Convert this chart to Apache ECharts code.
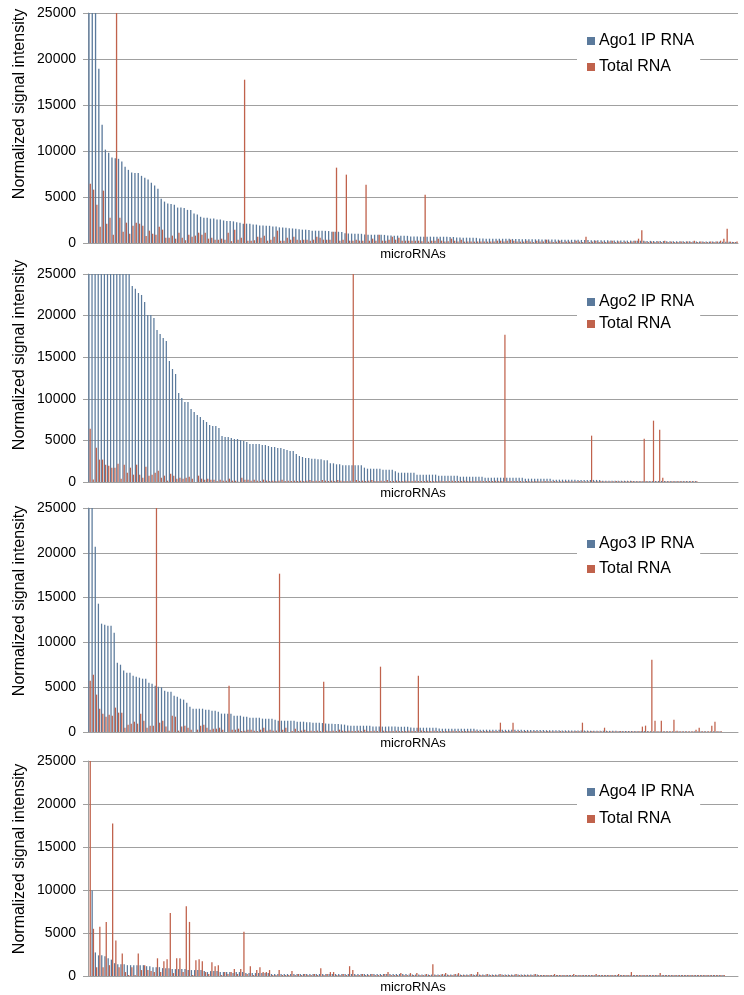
<!DOCTYPE html>
<html>
<head>
<meta charset="utf-8">
<script src="https://cdn.jsdelivr.net/npm/echarts@6/dist/echarts.min.js"></script>
<style>
  html, body { margin: 0; padding: 0; background: #fff; }
  #chart { width: 744px; height: 995px; }
</style>
</head>
<body>
<div id="chart"></div>
<script>
// 各面板的数据（从图上估读，单位：归一化信号强度）
const ago1Ip = [
  40000, 32000, 27000, 18950, 12860, 10150, 9800, 9300, 9200, 9150, 8850, 8300, 7950, 7650, 7600, 7600, 7300, 7100, 6900, 6550,
  6250, 5900, 4800, 4500, 4300, 4250, 4150, 3850, 3850, 3800, 3600, 3600, 3200, 3100, 2850, 2750, 2750, 2650, 2650, 2550,
  2550, 2450, 2400, 2400, 2350, 2250, 2200, 2100, 2100, 2100, 2000, 2000, 1900, 1900, 1880, 1870, 1800, 1780, 1700, 1680,
  1650, 1600, 1580, 1560, 1500,
  1450, 1450, 1420, 1340, 1340, 1340, 1330, 1320, 1300, 1230, 1230, 1220, 1200, 1050, 1040, 1020, 1015, 1010, 1000, 920,
  910, 905, 900, 900, 890, 880, 820, 810, 800, 800, 800, 790, 780, 720, 700, 700, 690, 690, 690, 690,
  680, 680, 680, 680, 670, 660, 650, 600, 590, 580, 580, 580, 570, 560, 490, 480, 470, 470, 470, 470,
  460, 460, 450, 450, 440, 440, 430,
  420, 420, 410, 400, 400, 400, 390, 380, 380, 370, 370, 360, 360, 360, 350, 350, 340, 340, 330,
  320, 320, 310, 300, 300, 300, 290, 290, 280, 280, 270, 270, 260, 260, 260, 250, 250, 240, 240, 230,
  230, 220, 220, 210, 210, 200, 200, 200, 190, 190, 180, 180, 180, 170, 170, 160, 160, 160, 150, 150,
  150, 140, 140, 130, 130, 120, 120
]
const ago1Total = [
  6450, 5800, 4170, 1775, 5690, 2100, 2750, 900, 30000, 2750, 1230, 2210, 1015, 1880, 2210, 2100, 1880, 760, 1340, 1015,
  905, 1775, 1450, 580, 580, 800, 470, 1120, 580, 300, 905, 690, 800, 1120, 905, 1120, 470, 580, 360, 360,
  470, 360, 1120, 200, 1450, 360, 580, 17750,
  250, 250, 300, 690, 580, 800, 250, 360, 690, 1340, 250, 250, 580, 360, 690, 360, 300,
  360, 360, 250, 360, 690, 580, 360, 360, 360, 1230, 8190, 250, 360, 7430, 250, 250, 360, 250, 250, 6340,
  250, 470, 250, 905, 250, 250, 360, 690, 360, 580, 250, 250, 250, 250, 250, 250, 200, 5250, 150, 250,
  250, 470, 250, 150, 200, 470, 250, 150, 360, 150, 150, 150, 150, 150, 150, 150, 150, 150, 150, 250,
  250, 150, 250, 360, 250, 150, 150,
  150, 250, 150, 100, 250, 150, 150, 360, 150, 100, 150, 250, 100, 150, 150, 100, 250, 150, 100, 690,
  100, 150, 250, 100, 150, 100, 150, 250, 100, 150, 100, 150, 100, 150, 250, 470, 1380, 150, 100, 150,
  100, 150, 100, 250, 100, 150, 100, 100, 150, 100, 150, 100, 250, 100, 150, 100, 100, 150, 100, 150,
  250, 470, 1560, 150, 100, 150
]

const ago2Ip = [
  60000, 45000, 40000, 38000, 36000, 34000, 33000, 32000, 31000, 30000, 29000, 28000, 27000, 26000,
  23560, 23240, 22720, 22480, 21630, 20070, 20070, 19710, 18270, 17790, 17310, 16950, 14540, 13580, 12980, 10700,
  10100, 9615, 9615, 8770, 8410, 8050, 7810, 7450, 7210, 6850, 6730, 6730, 6490, 5530, 5410, 5410, 5290, 5170, 5170, 5050,
  4930, 4810, 4570, 4570, 4570, 4570, 4450, 4450, 4330, 4210, 4210, 4090, 4090, 3970, 3850, 3730, 3730, 3370, 3125,
  3005, 2885, 2885, 2805, 2805, 2725, 2725, 2605, 2605, 2245, 2245, 2125, 2125, 2005, 2005, 2005, 2005, 2005, 2005, 2005,
  1725, 1600, 1600, 1600, 1600, 1600, 1480, 1480, 1480, 1480, 1280, 1120, 1120, 1120, 1120, 1120, 1120, 880, 880, 880,
  880, 880, 880, 880, 760, 760, 760, 760, 760, 760, 760, 640, 640, 640, 640, 640, 640, 640, 640, 520,
  520, 520, 520, 520, 520, 520, 520, 520, 520, 520,
  520, 520, 400, 400, 400, 400, 400, 400, 400, 400, 400, 280, 280, 280, 280, 280, 280, 280, 280, 250,
  250, 250, 250, 250, 250, 250, 250, 150, 150, 150, 150, 150, 150, 150, 150, 150, 150, 130, 130, 130,
  130, 130, 130, 130, 130, 130, 130, 110, 110, 110, 110, 110, 110, 110, 110, 110, 110, 110
]
const ago2Total = [
  6410, 300, 4130, 2690, 2690, 2080, 1960, 1720, 1720, 2200, 400, 2080, 1120, 1720, 880, 2080, 880, 520, 1840, 760,
  880, 1120, 1360, 520, 760, 160, 1000, 760, 400, 520, 400, 520, 640, 400, 0, 760, 400, 280, 400, 280,
  280, 120, 280, 160, 160, 400, 160, 160, 40, 520, 280, 280,
  160, 280, 160, 120, 280, 160, 120, 160, 120, 160, 280, 120, 160, 120, 160, 120, 160,
  120, 160, 240, 120, 160, 120, 240, 160, 120, 160, 120, 240, 160, 120, 120, 160, 30000, 240, 120, 160,
  120, 160, 240, 120, 120, 160, 120, 240, 120, 120, 160, 120, 120, 160, 120, 120, 160, 120, 120, 120,
  160, 120, 120, 120, 160, 120, 120, 120, 160, 120, 120, 120, 160, 120, 120, 120, 120, 160, 120, 120,
  120, 120, 160, 120, 120, 17710, 120, 120, 120, 120,
  120, 80, 120, 80, 80, 120, 80, 80, 120, 80, 80, 120, 80, 80, 80, 120, 80, 80, 80, 120,
  80, 80, 80, 5570, 80, 80, 120, 80, 80, 80, 80, 120, 80, 80, 80, 80, 120, 80, 80, 80,
  5210, 80, 80, 7370, 80, 6290, 520, 80, 80, 80, 80, 80, 80, 80, 80, 80, 80, 80
]

const ago3Ip = [
  40000, 30000, 20680, 14320, 12090, 11980, 11870, 11870, 11090, 7740, 7510, 6850, 6620, 6620, 6290, 6180, 6060, 5950, 5950, 5510,
  5390, 5170, 5060, 4985, 4610, 4500, 4500, 4055, 3940, 3720, 3610, 3270, 2830, 2600, 2600, 2600, 2600, 2490, 2490, 2380,
  2380, 2270, 2050, 2050, 2050, 2050, 1820, 1820, 1820, 1710, 1710, 1600, 1600, 1600, 1600, 1490, 1490, 1490, 1490, 1380,
  1260, 1260, 1260, 1260, 1260, 1260, 1150,
  1150, 1150, 1100, 1100, 1040, 1040, 1040, 1000, 950, 930, 930, 900, 880, 850, 820,
  720, 710, 710, 710, 700, 700, 700, 690,
  620, 610, 600, 600, 600, 600, 600, 600, 590, 590, 590, 580,
  490, 480, 480, 480, 480, 480, 470, 470, 470,
  380, 370, 370, 370, 370, 370, 370, 360, 360, 360, 360, 350,
  270, 260, 260, 260, 260, 260, 260, 260, 250, 250, 250, 250, 250, 240,
  240, 230, 230, 220, 220, 220, 210, 210, 200, 200, 200, 190, 190, 180, 180, 180, 170, 170, 170, 160,
  160, 160, 150, 150, 150, 140, 140, 140, 130, 130, 130, 120, 120, 120, 110, 110, 110, 100, 100, 100,
  100, 90, 90, 90, 90, 80, 80, 80, 80, 80, 80, 70, 70, 70, 70, 70, 70, 70, 70, 70, 70, 70, 70, 70
]
const ago3Total = [
  5730, 6400, 4170, 2600, 2050, 1710, 1930, 1820, 2720, 2160, 2160, 480, 820, 930, 1150, 930, 2050, 1260, 480, 710,
  700, 30000, 1040, 1260, 600, 150, 1820, 1710, 150, 600, 710, 480, 260, 0, 260, 710, 820, 480, 260, 370,
  370, 480, 260, 0, 5170, 260, 260, 370, 100, 150, 260, 260, 150, 100, 260, 480, 150, 260, 150, 150,
  17670, 260, 480, 0, 100, 370, 100,
  150, 260, 100, 150, 100, 150, 100, 5620, 150, 100, 150, 100, 260, 150, 100, 150, 100, 100, 150, 100,
  260, 100, 100, 150, 100, 7290, 150, 100, 100, 100, 150, 100, 100, 100, 150, 100, 100, 6290, 150, 100,
  100, 100, 150, 100, 100, 100, 100, 100, 150, 100, 100, 100, 100, 100, 100, 150, 100, 100, 100, 100,
  100, 100, 100, 1040, 100, 100, 100, 1040, 100, 100,
  80, 100, 80, 80, 100, 80, 80, 80, 100, 80, 80, 80, 100, 80, 80, 80, 80, 100, 80, 1040,
  80, 80, 100, 80, 80, 80, 480, 80, 80, 80, 80, 100, 80, 80, 80, 80, 80, 80, 600, 710,
  80, 8070, 1260, 80, 1260, 80, 80, 80, 1380, 150, 80, 80, 80, 80, 80, 260, 480, 80, 80, 80,
  710, 1150, 80, 80
]

const ago4Ip = [
  0, 9950, 2740, 2400, 2400, 2290, 2060, 1900, 1490, 1370, 1370, 1370, 1260, 1260, 1260, 1260, 1260, 1260, 1140, 1140,
  1030, 1030, 1030, 915, 915, 915, 800, 800, 800, 800, 800, 690, 690, 690, 690, 690, 570, 460, 570, 570,
  570, 460, 460, 460, 460, 340, 460, 460, 460, 340, 340, 340, 340, 340, 340, 340, 340, 230, 230, 230,
  230, 230, 230, 230, 230, 230,
  230, 230, 230, 230, 230, 230, 230, 230, 230, 230, 230, 230, 230, 230, 230, 230, 230, 230, 230, 230,
  230, 230, 230, 230, 230, 230, 230, 230, 230, 230, 230, 230, 230, 230,
  170, 170, 170, 170, 170, 170, 170, 170, 170, 170, 170, 170, 170, 170, 170, 170, 170, 170, 170, 170,
  170, 170, 170, 170, 170, 170, 170, 170, 170, 170, 170, 170, 170, 170, 170, 170, 170, 170, 170, 170, 170,
  110, 110, 110, 110, 110, 110, 110, 110, 110, 110, 110, 110, 110, 110, 110, 110, 110, 110, 110, 110,
  110, 110, 110, 110, 110, 110, 110, 110, 110, 110, 110, 110, 110, 110, 110, 110, 110, 110, 110, 110,
  110, 110, 110, 110, 110, 110, 110, 110, 110, 110, 110, 110, 110, 110, 110, 110, 110, 110
]
const ago4Total = [
  30000, 5490, 1030, 5720, 1030, 6290, 1260, 17720, 4120, 1030, 2630, 460, 110, 1030, 110, 2630, 690, 1260, 690, 570,
  460, 2060, 460, 1710, 1940, 7320, 340, 2060, 2060, 460, 8120, 6290, 110, 1830, 1940, 1710, 460, 230, 1600, 1140,
  1260, 110, 460, 230, 460, 800, 230, 800, 5140, 230, 1140, 110, 690, 1030, 460, 460, 690, 110, 110, 690,
  110, 110, 110, 570, 110, 230,
  110, 230, 110, 110, 230, 110, 915, 110, 230, 460, 460, 110, 110, 230, 110, 1140, 690, 110, 110, 230,
  110, 110, 230, 110, 110, 110, 230, 460, 110, 110, 110, 340, 110, 110, 340, 110, 340, 110, 110, 230,
  110, 1370, 110, 110, 230, 340, 110, 110, 230, 340, 110, 110, 110, 230, 110, 460, 110, 110, 230, 110,
  110, 110, 230, 110, 110, 110, 110, 230, 110, 110, 110, 110, 110, 230, 110, 110, 110, 110, 110, 230,
  110, 110, 110, 110, 110, 230, 110, 110, 110, 110, 110, 110, 230, 110, 110, 110, 110, 110, 110, 230,
  110, 110, 110, 460, 110, 110, 110, 110, 110, 110, 110, 110, 340, 110, 110, 110, 110, 110, 110, 110,
  110, 110, 110, 110, 110, 110, 110, 110, 110, 110, 110, 110, 110
]

// 每个面板的 microRNA 数量（横轴类目数）
const mirCounts = [198, 210, 206, 203]
const ipNames = ['Ago1 IP RNA', 'Ago2 IP RNA', 'Ago3 IP RNA', 'Ago4 IP RNA']
const yTicks = [0, 5000, 10000, 15000, 20000, 25000]
const yTitle = 'Normalized signal intensity'

const ipData = [ago1Ip, ago2Ip, ago3Ip, ago4Ip]
const totalData = [ago1Total, ago2Total, ago3Total, ago4Total]

// 版面位置
const layout = [
  { top: 13, height: 230, legendTop: 29, itemGap: 10, titleY: 104 },
  { top: 274, height: 208, legendTop: 290, itemGap: 6, titleY: 355 },
  { top: 508, height: 224, legendTop: 532, itemGap: 9, titleY: 601 },
  { top: 761, height: 219, legendTop: 780, itemGap: 11, titleY: 859 }
]

const BLUE = '#5b7a9c'
const RED = '#c0624c'
const GRID_GRAY = '#a0a0a0'
const FONT = '"Liberation Sans", Arial, sans-serif'

const chart = echarts.init(document.getElementById('chart'))

const grids = []
const xAxes = []
const yAxes = []
const legends = []
const series = []
const titles = []

layout.forEach((p, i) => {
  grids.push({ left: 88, right: 6, top: p.top, height: p.height })

  const cats = Array.from({ length: mirCounts[i] }, (_, k) => 'miR' + (k + 1))
  xAxes.push({
    gridIndex: i,
    type: 'category',
    data: cats,
    axisLine: { show: true, lineStyle: { color: GRID_GRAY, width: 1 } },
    axisTick: { show: false },
    axisLabel: { show: false },
    name: 'microRNAs',
    nameLocation: 'middle',
    nameGap: 5,
    nameTextStyle: { fontFamily: FONT, fontSize: 13, color: '#000', verticalAlign: 'top' }
  })

  yAxes.push({
    gridIndex: i,
    type: 'value',
    min: yTicks[0],
    max: yTicks[yTicks.length - 1],
    interval: yTicks[1] - yTicks[0],
    axisLine: { show: true, lineStyle: { color: GRID_GRAY, width: 1 } },
    axisTick: { show: true, length: 5, lineStyle: { color: GRID_GRAY } },
    axisLabel: { fontFamily: FONT, fontSize: 14, color: '#000', margin: 12, formatter: v => String(v) },
    splitLine: { show: true, lineStyle: { color: GRID_GRAY, width: 1 } }
  })

  // 纵轴标题（竖排）
  titles.push({
    type: 'text',
    x: 20,
    y: p.titleY,
    rotation: Math.PI / 2,
    style: {
      text: yTitle,
      fontFamily: FONT,
      fontSize: 16,
      fill: '#000',
      textAlign: 'center',
      textVerticalAlign: 'middle'
    }
  })

  legends.push({
    data: [ipNames[i], 'Total RNA'],
    orient: 'vertical',
    left: 577,
    top: p.legendTop,
    icon: 'rect',
    itemWidth: 8,
    itemHeight: 8,
    itemGap: p.itemGap,
    padding: [4, 6, 4, 10],
    backgroundColor: '#fff',
    textStyle: { fontFamily: FONT, fontSize: 16, color: '#000', padding: [0, 0, 0, -1] }
  })

  series.push({
    name: ipNames[i],
    type: 'bar',
    xAxisIndex: i,
    yAxisIndex: i,
    data: ipData[i],
    itemStyle: { color: BLUE },
    barGap: '0%',
    barCategoryGap: '20%',
    clip: true
  })
  series.push({
    name: 'Total RNA',
    type: 'bar',
    xAxisIndex: i,
    yAxisIndex: i,
    data: totalData[i],
    itemStyle: { color: RED },
    barGap: '0%',
    barCategoryGap: '20%',
    clip: true
  })
})

chart.setOption({
  animation: false,
  backgroundColor: '#fff',
  grid: grids,
  xAxis: xAxes,
  yAxis: yAxes,
  legend: legends,
  graphic: titles,
  series: series
})
</script>
</body>
</html>
